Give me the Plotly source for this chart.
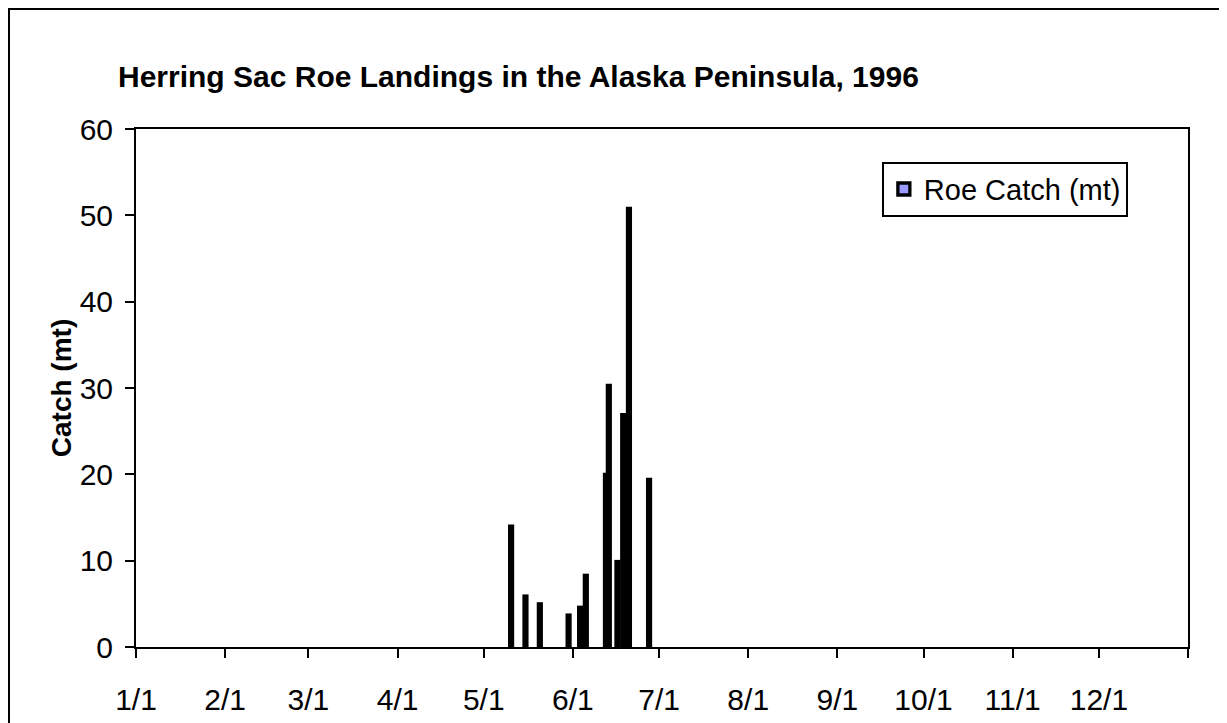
import plotly.graph_objects as go

# Roe landings, 1996 (date, metric tons)
dates = ["1996-05-10", "1996-05-15", "1996-05-20", "1996-05-30", "1996-06-03",
         "1996-06-05", "1996-06-12", "1996-06-13", "1996-06-16", "1996-06-18",
         "1996-06-20", "1996-06-27"]
catch_mt = [14.0, 5.9, 5.0, 3.7, 4.6, 8.3, 20.0, 30.3, 9.9, 26.9, 50.8, 19.4]

tick_dates = ["1996-01-01", "1996-02-01", "1996-03-01", "1996-04-01", "1996-05-01",
              "1996-06-01", "1996-07-01", "1996-08-01", "1996-09-01", "1996-10-01",
              "1996-11-01", "1996-12-01", "1997-01-01"]
tick_labels = ["1/1", "2/1", "3/1", "4/1", "5/1", "6/1", "7/1", "8/1", "9/1",
               "10/1", "11/1", "12/1", ""]

FONT = "Liberation Sans, Arial, sans-serif"
DAY_MS = 86400000

# page has an 8px body margin, so the figure is a bit smaller than the window
W, H = 1219, 715
L, R, T, B = 128, 39, 121, 76
PW = W - L - R
PH = H - T - B

fig = go.Figure()
fig.add_trace(go.Bar(
    x=dates,
    y=catch_mt,
    name="Roe Catch (mt)",
    xperiod=DAY_MS,
    xperiodalignment="middle",
    width=DAY_MS,
    marker=dict(color="#9999FF", line=dict(color="black", width=3.3)),
))

fig.update_layout(
    width=W,
    height=H,
    margin=dict(l=L, r=R, t=T, b=B),
    paper_bgcolor="white",
    plot_bgcolor="white",
    font=dict(family=FONT, color="black"),
    title=dict(
        text="<b>Herring Sac Roe Landings in the Alaska Peninsula, 1996</b>",
        x=110 / W, xanchor="left", xref="container",
        y=1 - 68 / H, yanchor="middle", yref="container",
        font=dict(size=30, family=FONT, color="black"),
    ),
    showlegend=True,
    legend=dict(
        x=0.709, y=0.937, xanchor="left", yanchor="top",
        bordercolor="black", borderwidth=2, bgcolor="white",
        font=dict(size=29, family=FONT),
        itemwidth=30,
    ),
    xaxis=dict(
        type="date",
        range=["1996-01-01", "1997-01-01"],
        tickvals=tick_dates,
        ticktext=tick_labels,
        ticks="outside", ticklen=9, tickwidth=2, tickcolor="black",
        showline=True, linecolor="black", linewidth=2, mirror=True,
        showgrid=False, zeroline=False,
        tickfont=dict(size=30, family=FONT),
        ticklabelstandoff=16,
        automargin=False,
    ),
    yaxis=dict(
        range=[0, 60],
        tickvals=[0, 10, 20, 30, 40, 50, 60],
        ticks="outside", ticklen=9, tickwidth=2, tickcolor="black",
        showline=True, linecolor="black", linewidth=2, mirror=True,
        showgrid=False, zeroline=False,
        tickfont=dict(size=30, family=FONT),
        ticklabelstandoff=6,
        automargin=False,
        title=dict(text="<b>Catch (mt)</b>", font=dict(size=28, family=FONT), standoff=0),
    ),
    shapes=[dict(
        type="rect", xref="paper", yref="paper",
        x0=(1 - L) / PW, x1=(1213 - L) / PW,
        y0=-0.5, y1=(H - B - 1) / PH,
        line=dict(color="black", width=2), fillcolor="rgba(0,0,0,0)",
        layer="below",
    )],
)

fig.write_html("out.html")
